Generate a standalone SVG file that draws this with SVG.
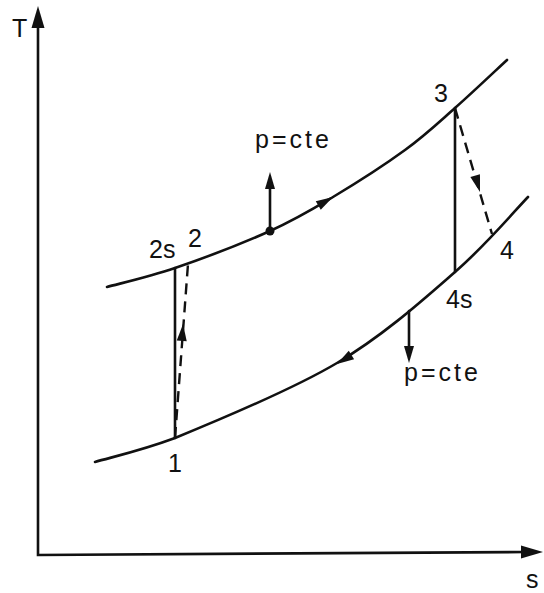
<svg xmlns="http://www.w3.org/2000/svg" width="544" height="593" viewBox="0 0 544 593">
<style>
.ln{fill:none;stroke:#111;stroke-width:2.6;stroke-linecap:round}
.ds{fill:none;stroke:#111;stroke-width:2.4;stroke-dasharray:11 7}
.ah{fill:#111}
text{font-family:"Liberation Sans",Arial,sans-serif;font-size:25px;fill:#111}
.pc{letter-spacing:3px}
</style>
<defs>
<path id="head" d="M0,0 L-17,-5 L-17,5 Z"/>
<path id="bighead" d="M0,0 L-22,-6.5 L-22,6.5 Z"/>
</defs>
<rect width="544" height="593" fill="#fff"/>
<g id="axes">
<path class="ln" d="M38,20 L38,555 L525,552" stroke-width="3.2"/>
<use href="#bighead" class="ah" transform="translate(38,6) rotate(-90)"/>
<use href="#bighead" class="ah" transform="translate(543,552)"/>
<text x="12" y="37">T</text>
<text x="526" y="588">s</text>
</g>
<g id="connectors">
<path id="upper" class="ln" d="M107,287 C118.3,283.8 147.8,277.3 175,268 C202.2,258.7 243.7,242.8 270,231 C296.3,219.2 310.5,210.5 333,197 C355.5,183.5 384.7,164.8 405,150 C425.3,135.2 438,123 455,108 C472,93 498.3,68 507,60"/>
<path id="lower" class="ln" d="M95,462 C112,457 140,451 175,438 C215.3,421.5 290.3,390.7 337,363 C383.7,335.3 423.2,299.7 455,272 C486.8,244.3 515.8,209.5 528,197"/>
<path class="ln" d="M175,438 L175,268"/>
<path class="ln" d="M455,108 L455,272"/>
<path class="ds" d="M175,438 L188,264"/>
<path class="ds" d="M455,108 L492,234"/>
<use href="#head" class="ah" transform="translate(183,324) rotate(-85.8)"/>
<use href="#head" class="ah" transform="translate(480,192) rotate(73.5)"/>
<use href="#head" class="ah" transform="translate(333,197) rotate(-30)"/>
<use href="#head" class="ah" transform="translate(337,364) rotate(148)"/>
<path class="ln" d="M270,231 L270,185"/>
<use href="#head" class="ah" transform="translate(270,172) rotate(-90)"/>
<path class="ln" d="M409,311 L409,350"/>
<use href="#head" class="ah" transform="translate(409,363) rotate(90)"/>
<circle cx="270" cy="231" r="4.5" class="ah"/>
</g>
<g id="n1"><text x="168" y="472">1</text></g>
<g id="n2s"><text x="149" y="258">2s</text></g>
<g id="n2"><text x="188" y="247">2</text></g>
<g id="n3"><text x="434" y="102">3</text></g>
<g id="n4"><text x="500" y="259">4</text></g>
<g id="n4s"><text x="446" y="308">4s</text></g>
<g id="p1"><text class="pc" x="255" y="148">p=cte</text></g>
<g id="p2"><text class="pc" x="404" y="381">p=cte</text></g>
</svg>
